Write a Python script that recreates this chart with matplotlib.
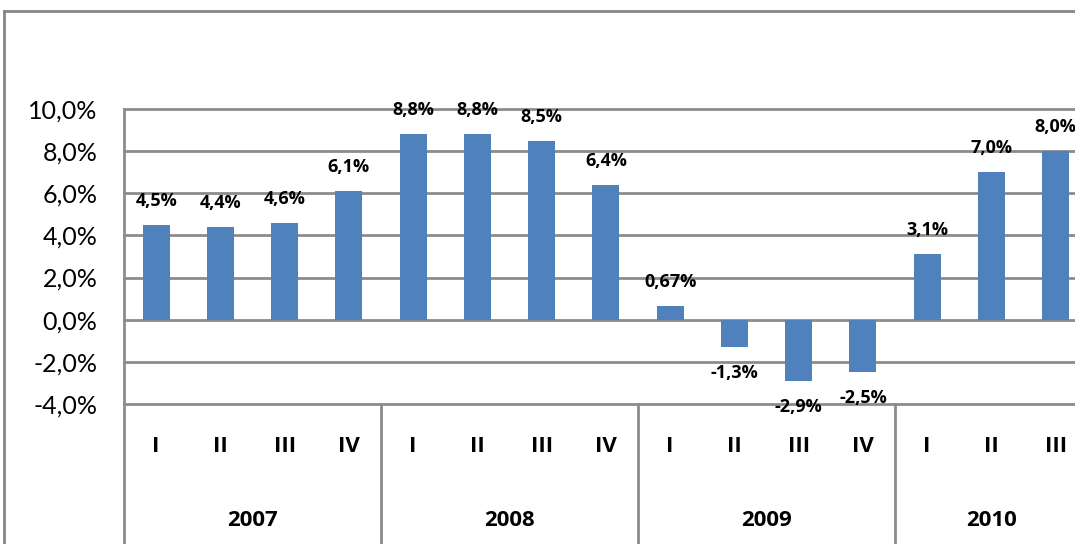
import matplotlib
matplotlib.use("Agg")
import matplotlib.pyplot as plt
from matplotlib.lines import Line2D

plt.rcParams['font.family'] = ['Lato', 'DejaVu Sans']
BOLD = ['Open Sans', 'DejaVu Sans']

quarters = ["I", "II", "III", "IV", "I", "II", "III", "IV", "I", "II", "III", "IV", "I", "II", "III"]
years = ["2007", "2008", "2009", "2010"]
year_sizes = [4, 4, 4, 3]
values = [4.5, 4.4, 4.6, 6.1, 8.8, 8.8, 8.5, 6.4, 0.67, -1.3, -2.9, -2.5, 3.1, 7.0, 8.0]
value_labels = ["4,5%", "4,4%", "4,6%", "6,1%", "8,8%", "8,8%", "8,5%", "6,4%",
                "0,67%", "-1,3%", "-2,9%", "-2,5%", "3,1%", "7,0%", "8,0%"]
yticks = [-4, -2, 0, 2, 4, 6, 8, 10]
ytick_labels = ["-4,0%", "-2,0%", "0,0%", "2,0%", "4,0%", "6,0%", "8,0%", "10,0%"]

W, H = 1075, 544
cat_w = 64.25
n = len(values)
fig = plt.figure(figsize=(W / 100, H / 100), dpi=100)
ax = fig.add_axes([124 / W, (H - 404) / H, n * cat_w / W, 295 / H])

grid_color = "#8c8c8c"
bar_color = "#4F81BD"

x = list(range(n))
ax.bar(x, values, width=0.42, color=bar_color, zorder=3)

ax.set_ylim(-4, 10)
ax.set_xlim(-0.5, n - 0.5)
ax.set_yticks(yticks)
ax.set_yticklabels(ytick_labels, fontsize=18, color="#000000")
ax.tick_params(axis="y", length=0, pad=19)
ax.set_xticks([])
for t in yticks:
    ax.axhline(t, color=grid_color, lw=2, zorder=1, clip_on=False)

for s in ["top", "right", "bottom", "left"]:
    ax.spines[s].set_visible(False)

trans = ax.get_xaxis_transform()
# left axis / group separators extending into the category table
bounds = [-0.5]
for sz in year_sizes:
    bounds.append(bounds[-1] + sz)
for xb in bounds:
    y0 = 1.0 if xb == -0.5 else 0.0
    ax.plot([xb, xb], [y0, -0.6], color=grid_color, lw=2, transform=trans, clip_on=False, zorder=2)

# data labels
for xi, v, lab in zip(x, values, value_labels):
    off = 24 if v >= 0 else -26
    ax.annotate(lab, (xi, v), xytext=(0, off), textcoords="offset pixels",
                ha="center", va="center", fontsize=13, fontweight="bold", family=BOLD)

# quarter labels
for xi, q in zip(x, quarters):
    ax.text(xi, (404 - 446) / 295, q, transform=trans, ha="center", va="center",
            fontsize=16, fontweight="bold", family=BOLD)
for i, yr in enumerate(years):
    c = (bounds[i] + bounds[i + 1]) / 2
    ax.text(c, (404 - 520) / 295, yr, transform=trans, ha="center", va="center",
            fontsize=16, fontweight="bold", family=BOLD)

# outer chart frame (partially cropped)
fig.add_artist(Line2D([4 / W, 4 / W], [0, (H - 11) / H], color="#868686", lw=2))
fig.add_artist(Line2D([4 / W, 1], [(H - 11) / H, (H - 11) / H], color="#868686", lw=2))

fig.savefig("out.png", dpi=100)
